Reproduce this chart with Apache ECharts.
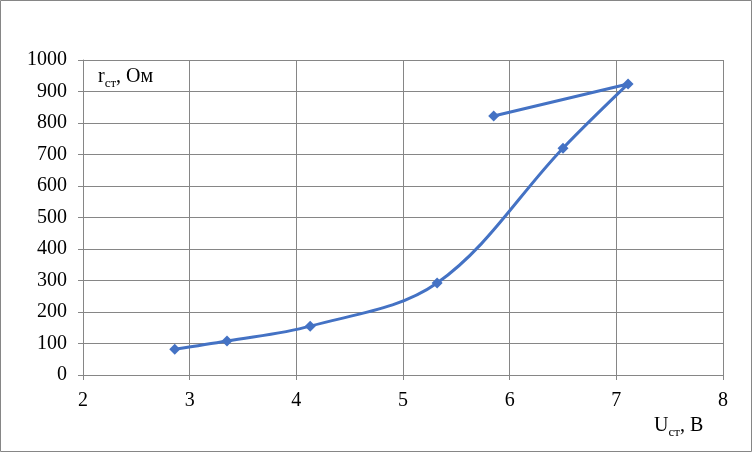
<!DOCTYPE html>
<html><head><meta charset="utf-8">
<script src="https://cdn.jsdelivr.net/npm/echarts@6/dist/echarts.min.js"></script>
<style>html,body{margin:0;padding:0;background:#fff}#c{width:753px;height:453px}</style>
</head><body><div id="c"></div>
<script>
const uValues = [2.86, 3.35, 4.13, 5.32, 6.5, 7.11, 5.85];
const rValues = [82, 108, 155, 292, 720, 924, 822];
const xTicks = [2, 3, 4, 5, 6, 7, 8];
const yTicks = [0, 100, 200, 300, 400, 500, 600, 700, 800, 900, 1000];

const gridColor = '#868686';
const font = '"Liberation Serif", "Times New Roman", serif';
const chart = echarts.init(document.getElementById('c'));
chart.setOption({
  animation: false,
  backgroundColor: '#fff',
  textStyle: { fontFamily: font },
  grid: { left: 83, right: 30, top: 60, bottom: 78, containLabel: false },
  xAxis: {
    type: 'value', min: xTicks[0], max: xTicks[xTicks.length - 1], interval: 1,
    axisLine: { onZero: false, lineStyle: { color: gridColor, width: 1 } },
    axisTick: { show: true, length: 5, lineStyle: { color: gridColor } },
    splitLine: { show: true, lineStyle: { color: gridColor, width: 1 } },
    axisLabel: { color: '#000', fontSize: 20, fontFamily: font, margin: 16, formatter: v => String(v) }
  },
  yAxis: {
    type: 'value', min: yTicks[0], max: yTicks[yTicks.length - 1], interval: 100,
    axisLine: { show: true, lineStyle: { color: gridColor, width: 1 } },
    axisTick: { show: true, length: 5, lineStyle: { color: gridColor } },
    splitLine: { show: true, lineStyle: { color: gridColor, width: 1 } },
    axisLabel: { color: '#000', fontSize: 20, fontFamily: font, margin: 16, formatter: v => String(v) }
  },
  graphic: [
    { type: 'rect', shape: { x: 0.5, y: 0.5, width: 751, height: 451 },
      style: { fill: 'none', stroke: gridColor, lineWidth: 1 }, z: 100 },
    { type: 'text', left: 98, top: 67, z: 100,
      style: { text: '{m|r}{s|ст}{m|, Ом}', fill: '#000',
        rich: { m: { fontSize: 20, fontFamily: font, verticalAlign: 'bottom' },
                s: { fontSize: 13, fontFamily: font, verticalAlign: 'bottom', padding: [0,0,-3,0] } } } },
    { type: 'text', left: 654, top: 416, z: 100,
      style: { text: '{m|U}{s|ст}{m|, В}', fill: '#000',
        rich: { m: { fontSize: 20, fontFamily: font, verticalAlign: 'bottom' },
                s: { fontSize: 13, fontFamily: font, verticalAlign: 'bottom', padding: [0,0,-3,0] } } } }
  ],
  series: [{
    type: 'line',
    data: uValues.map((u, i) => [u, rValues[i]]),
    smooth: 0.35,
    smoothConstraint: false,
    symbol: 'diamond', symbolSize: 11,
    lineStyle: { color: '#4472C4', width: 3 },
    itemStyle: { color: '#4472C4' }
  }]
});
</script></body></html>
